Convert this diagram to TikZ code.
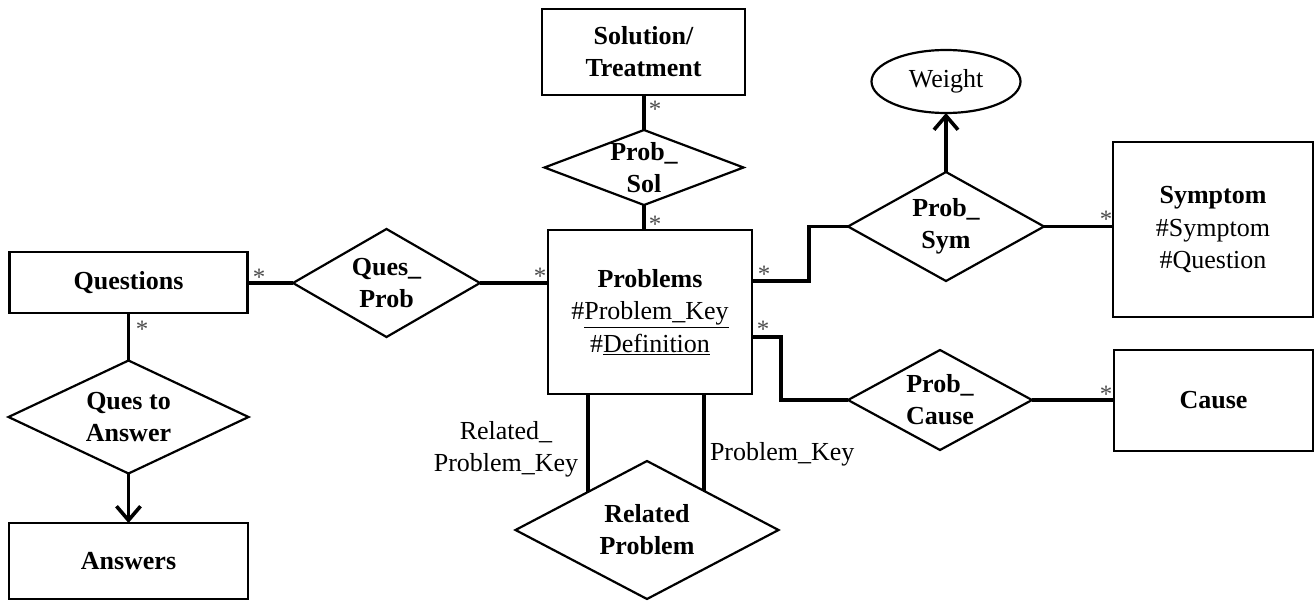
\documentclass[tikz,border=0pt]{standalone}
\usepackage{fontspec}
\setmainfont{Liberation Serif}
\usetikzlibrary{shapes.geometric,arrows.meta,calc}
\begin{document}
\begin{tikzpicture}[x=1pt,y=-1pt,
  every node/.style={inner sep=0pt, outer sep=0pt, font=\fontsize{26}{32}\selectfont},
  ent/.style={draw, line width=2.6pt, rectangle, align=center, font=\fontsize{26}{32}\selectfont\bfseries},
  entplain/.style={ent, font=\fontsize{26}{32.5}\selectfont},
  rel/.style={draw, line width=2.2pt, diamond},
  rtext/.style={align=center, font=\fontsize{26}{32}\selectfont\bfseries},
  conn/.style={line width=3.6pt},
  mult/.style={text=black!70, font=\fontsize{25}{25}\selectfont},
  arr/.style={conn, -{Straight Barb[length=14pt,width=24pt]}},
]
\useasboundingbox (0,0) rectangle (1314,602);

% entities
\node[ent, minimum width=238pt, minimum height=61pt] (q) at (128.5,282.5) {Questions};
\node[ent, minimum width=239pt, minimum height=76pt] (ans) at (128.5,561) {Answers};
\node[ent, minimum width=203pt, minimum height=86pt] (sol) at (643.5,52) {Solution/\\Treatment};
\node[entplain, minimum width=204pt, minimum height=164pt] (pr) at (650,312)
  {{\bfseries Problems}\\\#\underline{Problem\_Key}\\\#\underline{Definition}};
\node[entplain, minimum width=200pt, minimum height=175pt] (sym) at (1213,229.5)
  {{\bfseries Symptom}\\\#Symptom\\\#Question};
\node[ent, minimum width=199pt, minimum height=101pt] (cau) at (1213.5,400.5) {Cause};
\node[draw, ellipse, line width=2.2pt, minimum width=149pt, minimum height=63pt] (w) at (946,81.5) {Weight};

% relationships
\node[rel, minimum width=187pt, minimum height=108pt] (qp) at (386.5,283) {};
\node[rtext] (qpt) at (qp) {Ques\_\\Prob};
\node[rel, minimum width=240pt, minimum height=113pt] (qa) at (128.5,417) {};
\node[rtext] (qat) at (qa) {Ques to\\Answer};
\node[rel, minimum width=199pt, minimum height=75pt] (ps) at (644,167.5) {};
\node[rtext] (pst) at (ps) {Prob\_\\Sol};
\node[rel, minimum width=196pt, minimum height=109pt] (psy) at (946,226.5) {};
\node[rtext] (psyt) at (psy) {Prob\_\\Sym};
\node[rel, minimum width=184pt, minimum height=100pt] (pc) at (940,400) {};
\node[rtext] (pct) at (pc) {Prob\_\\Cause};
\node[rel, minimum width=263pt, minimum height=138pt] (rp) at (647,530) {};
\node[rtext] (rpt) at (rp) {Related\\Problem};

% connectors
\draw[conn] (qp.west -| q.east) -- (qp.west);
\draw[conn] (qp.east) -- (qp.east -| pr.west);
\draw[conn] (q.south) -- (qa.north);
\draw[arr] (qa.south) -- (ans.north);
\draw[conn] (ps.north) -- (ps.north |- sol.south);
\draw[conn] (ps.south) -- (ps.south |- pr.north);
\draw[conn] ([yshift=-51pt]pr.north east) -- ++(57,0) |- (psy.west);
\draw[conn] ([yshift=-107pt]pr.north east) -- ++(29,0) |- (pc.west);
\draw[conn] (psy.east) -- (psy.east -| sym.west);
\draw[conn] (pc.east) -- (pc.east -| cau.west);
\draw[arr] (psy.north) -- (psy.north |- w.south);
\coordinate (ra) at ($(rp.west)!0.553!(rp.north)$);
\coordinate (rb) at ($(rp.north)!0.435!(rp.east)$);
\draw[conn] (ra |- pr.south) -- (ra);
\draw[conn] (rb |- pr.south) -- (rb);

% role labels
\node[align=center] (lrk) at (506,449) {Related\_\\Problem\_Key};
\node[anchor=base west] (lpk) at (710,460) {Problem\_Key};

% multiplicities
\node[mult] (m1) at (259,277) {*};
\node[mult] (m2) at (142,329) {*};
\node[mult] (m3) at (540,276) {*};
\node[mult] (m4) at (655,109) {*};
\node[mult] (m5) at (655,224) {*};
\node[mult] (m6) at (764,274) {*};
\node[mult] (m7) at (763,329) {*};
\node[mult] (m8) at (1106,219) {*};
\node[mult] (m9) at (1106,394) {*};
\end{tikzpicture}
\end{document}
